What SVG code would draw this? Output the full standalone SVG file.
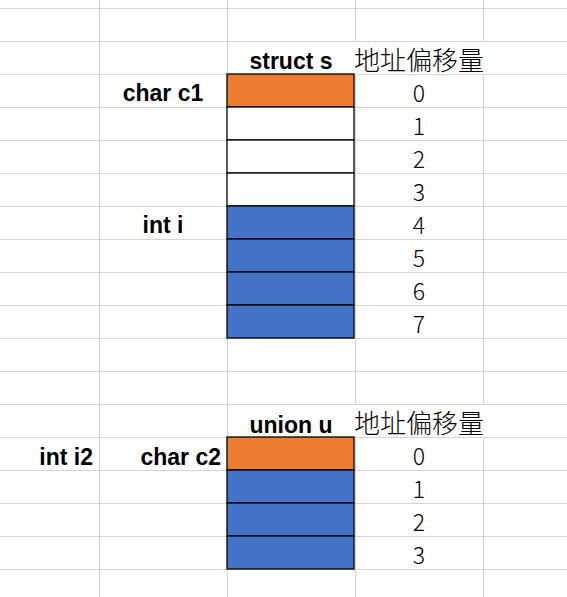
<svg xmlns="http://www.w3.org/2000/svg" width="567" height="597" viewBox="0 0 567 597">
<style>
.grid{stroke:#d4d4d4;stroke-width:1;fill:none}
.cell{stroke:#000;stroke-width:1.3}
.org{fill:#ED7D31}
.blu{fill:#4472C4}
.wht{fill:#fff}
.lbl{font-family:"Liberation Sans",Arial,sans-serif;font-weight:bold;font-size:23px;fill:#000}
.num{font-family:"Noto Sans CJK SC","Liberation Sans",sans-serif;font-size:23px;font-weight:300;fill:#000;text-anchor:middle}
.cjk{font-family:"Noto Sans CJK SC",sans-serif;font-size:26px;font-weight:300;fill:#000;text-anchor:middle}
</style>
<rect x="0" y="0" width="567" height="597" fill="#fff"/>
<g id="grid" class="grid">
<path d="M99.5 0V597M227.5 0V597M355.5 0V41.5M355.5 74.5V404.5M355.5 437.5V597M483.5 0V41.5M483.5 74.5V404.5M483.5 437.5V597"/>
<path d="M0 8.5H567M0 41.5H567M0 74.5H567M0 107.5H567M0 140.5H567M0 173.5H567M0 206.5H567M0 239.5H567M0 272.5H567M0 305.5H567M0 338.5H567M0 371.5H567M0 404.5H567M0 437.5H567M0 470.5H567M0 503.5H567M0 536.5H567M0 569.5H567"/>
</g>
<g id="struct-s">
<text class="lbl" x="291" y="69" text-anchor="middle">struct s</text>
<text class="cjk" x="419" y="69.5">地址偏移量</text>
<g id="s-c1"><rect class="cell org" x="227" y="74" width="127" height="33"/><text class="lbl" x="163" y="101" text-anchor="middle">char c1</text><text class="num" x="419" y="101.5">0</text></g>
<g id="s-pad1"><rect class="cell wht" x="227" y="107" width="127" height="33"/><text class="num" x="419" y="134.5">1</text></g>
<g id="s-pad2"><rect class="cell wht" x="227" y="140" width="127" height="33"/><text class="num" x="419" y="167.5">2</text></g>
<g id="s-pad3"><rect class="cell wht" x="227" y="173" width="127" height="33"/><text class="num" x="419" y="200.5">3</text></g>
<g id="s-i"><text class="lbl" x="163" y="233" text-anchor="middle">int i</text>
<rect class="cell blu" x="227" y="206" width="127" height="33"/><text class="num" x="419" y="233.5">4</text>
<rect class="cell blu" x="227" y="239" width="127" height="33"/><text class="num" x="419" y="266.5">5</text>
<rect class="cell blu" x="227" y="272" width="127" height="33"/><text class="num" x="419" y="299.5">6</text>
<rect class="cell blu" x="227" y="305" width="127" height="33"/><text class="num" x="419" y="332.5">7</text></g>
</g>
<g id="union-u">
<text class="lbl" x="291" y="432.5" text-anchor="middle">union u</text>
<text class="cjk" x="419" y="433">地址偏移量</text>
<text class="lbl" x="93" y="465" text-anchor="end">int i2</text>
<text class="lbl" x="221" y="465" text-anchor="end">char c2</text>
<g id="u-0"><rect class="cell org" x="227" y="437" width="127" height="33"/><text class="num" x="419" y="465">0</text></g>
<g id="u-1"><rect class="cell blu" x="227" y="470" width="127" height="33"/><text class="num" x="419" y="498">1</text></g>
<g id="u-2"><rect class="cell blu" x="227" y="503" width="127" height="33"/><text class="num" x="419" y="531">2</text></g>
<g id="u-3"><rect class="cell blu" x="227" y="536" width="127" height="33"/><text class="num" x="419" y="564">3</text></g>
</g>
</svg>
